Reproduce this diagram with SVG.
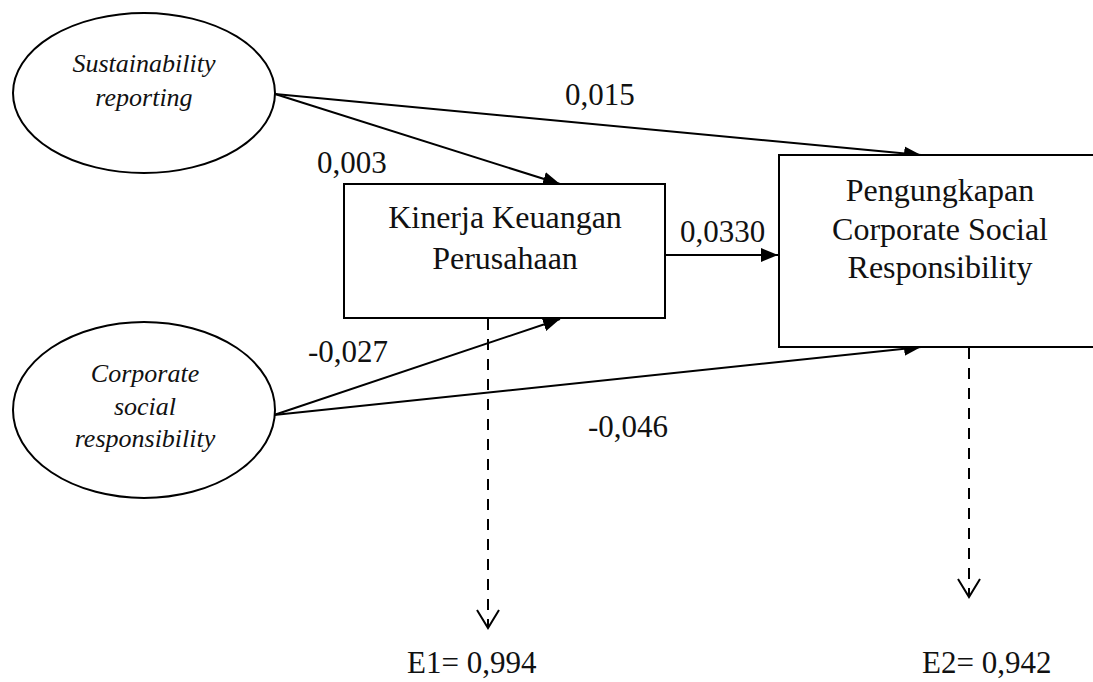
<svg xmlns="http://www.w3.org/2000/svg" width="1093" height="682" viewBox="0 0 1093 682">
<style>
.shape{fill:#fff;stroke:#000;stroke-width:2}
.lbl{font-family:"Liberation Serif","Times New Roman",serif;fill:#111;font-size:31px}
.err{font-family:"Liberation Serif","Times New Roman",serif;fill:#111;font-size:31px}
.box{font-family:"Liberation Serif","Times New Roman",serif;fill:#111;font-size:32px;text-anchor:middle}
.ell{font-family:"Liberation Serif","Times New Roman",serif;font-style:italic;fill:#111;font-size:26px;text-anchor:middle}
.conn{fill:none;stroke:#000;stroke-width:2}
.dash{fill:none;stroke:#000;stroke-width:2;stroke-dasharray:11 9}
</style>
<defs>
<marker id="arr" markerUnits="userSpaceOnUse" markerWidth="18" markerHeight="14" refX="17" refY="7" orient="auto">
<path d="M0,0 L17,7 L0,14 z" fill="#000"/>
</marker>
<marker id="open" markerUnits="userSpaceOnUse" markerWidth="22" markerHeight="26" refX="19" refY="13" orient="auto">
<path d="M1,2 L19,13 L1,24" fill="none" stroke="#000" stroke-width="2"/>
</marker>
</defs>
<rect width="1093" height="682" fill="#fff"/>
<g id="connectors">
<line class="conn" x1="275" y1="94" x2="560" y2="184" marker-end="url(#arr)"/>
<line class="conn" x1="275" y1="94" x2="921" y2="155" marker-end="url(#arr)"/>
<line class="conn" x1="665" y1="255" x2="778" y2="255" marker-end="url(#arr)"/>
<line class="conn" x1="274" y1="415" x2="560" y2="319" marker-end="url(#arr)"/>
<line class="conn" x1="274" y1="415" x2="921" y2="347" marker-end="url(#arr)"/>
<line class="dash" x1="488" y1="319" x2="488" y2="628" marker-end="url(#open)"/>
<line class="dash" x1="969" y1="348" x2="969" y2="597" marker-end="url(#open)"/>
</g>
<g id="sr">
<ellipse class="shape" cx="144" cy="93" rx="131" ry="80"/>
<text class="ell" x="144" y="72">Sustainability</text>
<text class="ell" x="144" y="106">reporting</text>
</g>
<g id="csr">
<ellipse class="shape" cx="144" cy="410" rx="131" ry="88"/>
<text class="ell" x="145" y="382">Corporate</text>
<text class="ell" x="145" y="415">social</text>
<text class="ell" x="145" y="447">responsibility</text>
</g>
<g id="kinerja">
<rect class="shape" x="344" y="184" width="321" height="134"/>
<text class="box" x="505" y="228">Kinerja Keuangan</text>
<text class="box" x="505" y="269">Perusahaan</text>
</g>
<g id="pengungkapan">
<rect class="shape" x="779" y="155" width="330" height="192"/>
<text class="box" x="940" y="201">Pengungkapan</text>
<text class="box" x="940" y="240">Corporate Social</text>
<text class="box" x="940" y="278">Responsibility</text>
</g>
<g id="labels">
<text class="lbl" x="565" y="105">0,015</text>
<text class="lbl" x="317" y="173">0,003</text>
<text class="lbl" x="680" y="242">0,0330</text>
<text class="lbl" x="308" y="362">-0,027</text>
<text class="lbl" x="588" y="437">-0,046</text>
<text class="err" x="407" y="673">E1= 0,994</text>
<text class="err" x="922" y="673">E2= 0,942</text>
</g>
</svg>
